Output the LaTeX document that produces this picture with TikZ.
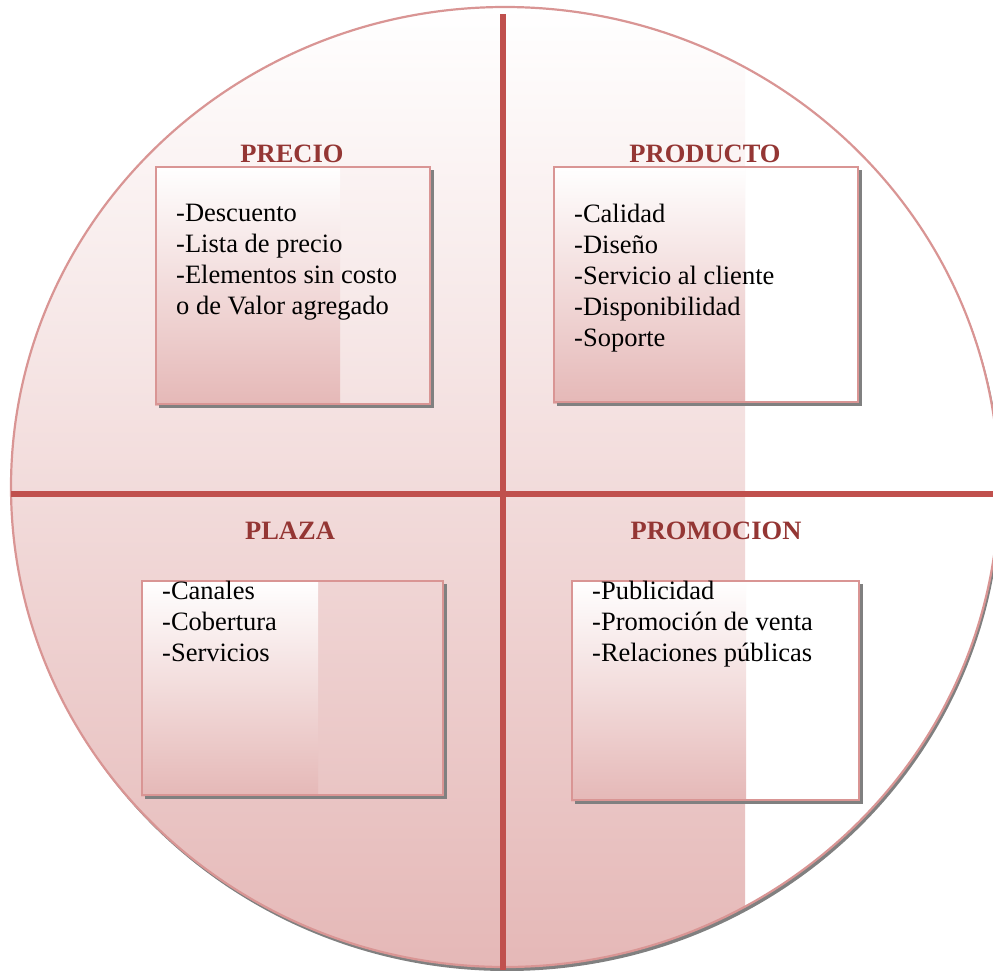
\documentclass[tikz,border=0pt]{standalone}
\usepackage{fontspec}
\setmainfont{Liberation Serif}
\usetikzlibrary{calc}
\definecolor{pinkB}{HTML}{E5B8B7}
\definecolor{outlinepink}{HTML}{D99594}
\definecolor{crossred}{HTML}{C0504D}
\definecolor{titlered}{HTML}{943634}
\definecolor{shadowgray}{HTML}{808080}
\pgfdeclarelayer{bottom}
\pgfdeclarelayer{mid}
\pgfsetlayers{bottom,mid,main}
\begin{document}
\begin{tikzpicture}[x=1pt,y=-1pt,
  box/.style={draw=outlinepink, line width=2.4pt, rectangle, anchor=north west, inner sep=0pt},
  boxshade/.style={top color=white, bottom color=pinkB},
  crossline/.style={draw=crossred, line width=6pt},
  title/.style={font=\fontsize{26.5}{31}\selectfont\bfseries, text=titlered, anchor=base, inner sep=0pt},
  items/.style={font=\fontsize{26.5}{31}\selectfont, align=left, anchor=north west, inner sep=0pt}]
\clip (0,0) rectangle (993,970);
% circle
\begin{pgfonlayer}{bottom}
  \fill[shadowgray] (507,491) ellipse [x radius=494, y radius=480];
  \fill[white] (505,487) ellipse [x radius=494, y radius=480];
  \begin{scope}
    \clip (505,487) ellipse [x radius=494, y radius=480];
    \shade[top color=white, bottom color=pinkB] (0,7) rectangle (745,967);
  \end{scope}
  \draw[outlinepink, line width=2.2pt] (505,487) ellipse [x radius=494, y radius=480];
\end{pgfonlayer}
% cross
\coordinate (vtop) at (503,14);
\coordinate (vbot) at (503,970);
\coordinate (hleft) at (11,494);
\coordinate (hright) at (993,494);
\draw[crossline] (vtop) -- (vbot);
\draw[crossline] (hleft) -- (hright);
% boxes
\node[box, minimum width=274pt, minimum height=237pt] (precio) at (155,166) {};
\node[box, minimum width=304pt, minimum height=235pt] (producto) at (553,166) {};
\node[box, minimum width=301pt, minimum height=214pt] (plaza) at (141,580) {};
\node[box, minimum width=287pt, minimum height=219pt] (promocion) at (571,580) {};
\begin{pgfonlayer}{mid}
  \shade[boxshade] (precio.north west) rectangle ($(precio.south west)+(185,0)$);
  \shade[boxshade] (producto.north west) rectangle ($(producto.south west)+(192,0)$);
  \shade[boxshade] (plaza.north west) rectangle ($(plaza.south west)+(177,0)$);
  \shade[boxshade] (promocion.north west) rectangle ($(promocion.south west)+(175,0)$);
  \foreach \b in {precio,producto,plaza,promocion}{
    \fill[shadowgray] ($(\b.north east)+(-1,4)$) rectangle ($(\b.south east)+(3,3)$);
    \fill[shadowgray] ($(\b.south west)+(4,-1)$) rectangle ($(\b.south east)+(3,3)$);
  }
\end{pgfonlayer}
% titles
\node[title] (tprecio) at (292,162) {PRECIO};
\node[title] (tproducto) at (705,162) {PRODUCTO};
\node[title] (tplaza) at (290,539) {PLAZA};
\node[title] (tpromocion) at (716,539) {PROMOCION};
% items
\node[items] (iprecio) at (176,204) {-Descuento\\-Lista de precio\\-Elementos sin costo\\o de Valor agregado};
\node[items] (iproducto) at (574,204) {-Calidad\\-Diseño\\-Servicio al cliente\\-Disponibilidad\\-Soporte};
\node[items] (iplaza) at (162,581) {-Canales\\-Cobertura\\-Servicios};
\node[items] (ipromocion) at (592,581) {-Publicidad\\-Promoción de venta\\-Relaciones públicas};
\end{tikzpicture}
\end{document}
